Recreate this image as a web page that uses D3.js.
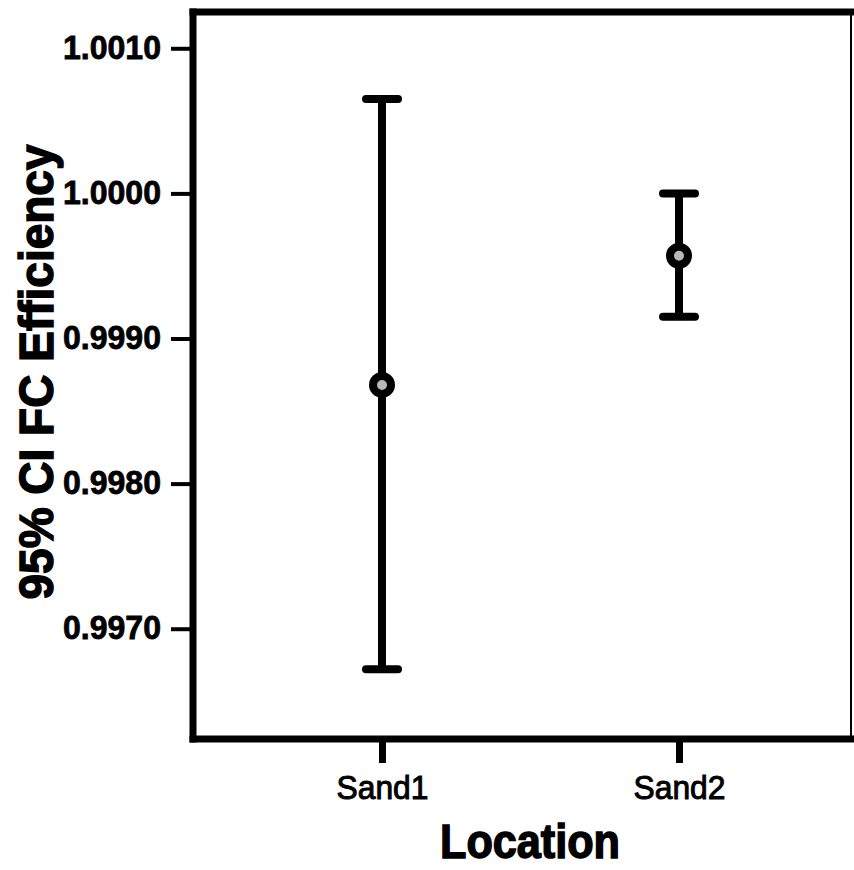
<!DOCTYPE html>
<html>
<head>
<meta charset="utf-8">
<script src="https://cdn.jsdelivr.net/npm/d3@7"></script>
<style>
  html, body { margin: 0; padding: 0; background: #fff; }
  svg { display: block; }
</style>
</head>
<body>
<svg id="chart" width="854" height="870"></svg>
<script>
// Mean FC efficiency with 95% confidence interval per location
const categories = ["Sand1", "Sand2"];
const means = [0.99868, 0.99957];
const lowerCI = [0.99672, 0.99915];
const upperCI = [1.00065, 1.00000];
const yTicks = [0.9970, 0.9980, 0.9990, 1.0000, 1.0010];
const yTickLabels = ["0.9970", "0.9980", "0.9990", "1.0000", "1.0010"];
const yTitle = "95% CI FC Efficiency";
const xTitle = "Location";

const rows = categories.map((c, i) => ({ cat: c, mean: means[i], lo: lowerCI[i], hi: upperCI[i] }));

const svg = d3.select("#chart");
const frame = { left: 193, top: 12, right: 851, bottom: 739 };

const y = d3.scaleLinear().domain([0.99624, 1.00125]).range([frame.bottom, frame.top]);
const x = d3.scalePoint().domain(categories).range([382, 679]);

// Y axis ticks and labels
const yAxis = svg.append("g").attr("transform", `translate(${frame.left},0)`)
  .call(d3.axisLeft(y).tickValues(yTicks).tickSize(22).tickPadding(10)
    .tickFormat((d, i) => yTickLabels[i]));
yAxis.select(".domain").remove();
yAxis.selectAll(".tick line").attr("stroke", "#000").attr("stroke-width", 4);
yAxis.selectAll(".tick text")
  .attr("fill", "#000")
  .attr("stroke", "#000").attr("stroke-width", 0.8)
  .style("font-family", "'Liberation Sans', Arial, sans-serif")
  .style("font-weight", "bold")
  .style("font-size", "33px")
  .attr("dy", "0.3em")
  .attr("textLength", 98)
  .attr("lengthAdjust", "spacingAndGlyphs");

// X axis ticks and labels
const xAxis = svg.append("g").attr("transform", `translate(0,${frame.bottom})`)
  .call(d3.axisBottom(x).tickSize(24).tickPadding(12));
xAxis.select(".domain").remove();
xAxis.selectAll(".tick line").attr("stroke", "#000").attr("stroke-width", 7);
xAxis.selectAll(".tick text")
  .attr("fill", "#000")
  .attr("stroke", "#000").attr("stroke-width", 1)
  .style("font-family", "'Liberation Sans', Arial, sans-serif")
  .style("font-size", "34px")
  .attr("dy", "0.72em")
  .attr("textLength", 92)
  .attr("lengthAdjust", "spacingAndGlyphs");

// Plot frame
const frameG = svg.append("g").attr("stroke", "#000").attr("fill", "none").attr("stroke-linecap", "square");
frameG.append("line").attr("x1", frame.left).attr("x2", frame.left)
  .attr("y1", frame.top).attr("y2", frame.bottom).attr("stroke-width", 7);
frameG.append("line").attr("x1", frame.left).attr("x2", 854)
  .attr("y1", frame.top).attr("y2", frame.top).attr("stroke-width", 7);
frameG.append("line").attr("x1", frame.left).attr("x2", 854)
  .attr("y1", frame.bottom).attr("y2", frame.bottom).attr("stroke-width", 7);
frameG.append("line").attr("x1", frame.right).attr("x2", frame.right)
  .attr("y1", frame.top).attr("y2", frame.bottom).attr("stroke-width", 2);

// Error bars
const capW = 32;
const bars = svg.append("g").selectAll("g").data(rows).join("g");
bars.append("line")
  .attr("x1", d => x(d.cat)).attr("x2", d => x(d.cat))
  .attr("y1", d => y(d.hi)).attr("y2", d => y(d.lo))
  .attr("stroke", "#000").attr("stroke-width", 8);
bars.append("line")
  .attr("x1", d => x(d.cat) - capW / 2).attr("x2", d => x(d.cat) + capW / 2)
  .attr("y1", d => y(d.hi)).attr("y2", d => y(d.hi))
  .attr("stroke", "#000").attr("stroke-width", 8).attr("stroke-linecap", "round");
bars.append("line")
  .attr("x1", d => x(d.cat) - capW / 2).attr("x2", d => x(d.cat) + capW / 2)
  .attr("y1", d => y(d.lo)).attr("y2", d => y(d.lo))
  .attr("stroke", "#000").attr("stroke-width", 8).attr("stroke-linecap", "round");
bars.append("circle")
  .attr("cx", d => x(d.cat)).attr("cy", d => y(d.mean))
  .attr("r", 9)
  .attr("fill", "#b8b8b8").attr("stroke", "#000").attr("stroke-width", 8);

// Axis titles
svg.append("text")
  .attr("transform", "translate(53,372) rotate(-90)")
  .attr("text-anchor", "middle")
  .attr("fill", "#000")
  .attr("stroke", "#000").attr("stroke-width", 1.5)
  .style("font-family", "'Liberation Sans', Arial, sans-serif")
  .style("font-weight", "bold")
  .style("font-size", "48px")
  .attr("textLength", 455)
  .attr("lengthAdjust", "spacingAndGlyphs")
  .text(yTitle);

svg.append("text")
  .attr("x", 530).attr("y", 858)
  .attr("text-anchor", "middle")
  .attr("fill", "#000")
  .attr("stroke", "#000").attr("stroke-width", 1.5)
  .style("font-family", "'Liberation Sans', Arial, sans-serif")
  .style("font-weight", "bold")
  .style("font-size", "48px")
  .attr("textLength", 180)
  .attr("lengthAdjust", "spacingAndGlyphs")
  .text(xTitle);
</script>
</body>
</html>
